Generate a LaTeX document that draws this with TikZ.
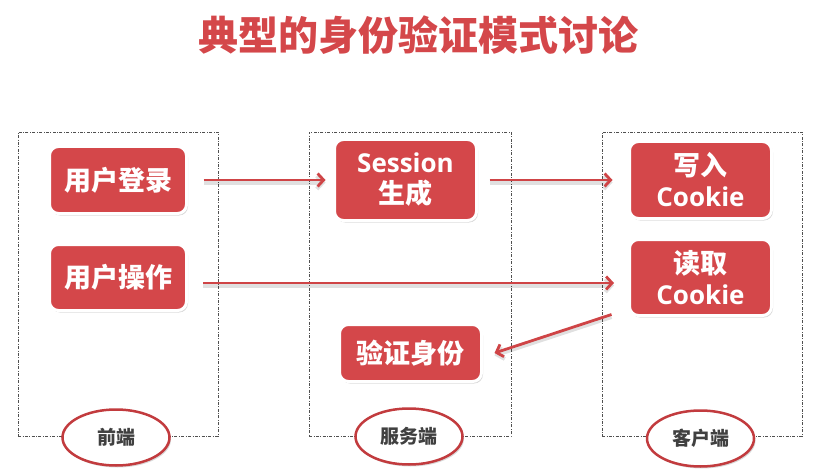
\documentclass[tikz,border=0pt]{standalone}
\usepackage{fontspec}
\setmainfont{Open Sans}
\newfontfamily\cjk{Noto Sans CJK SC}
\usetikzlibrary{shapes.geometric,shadows,arrows.meta}
\definecolor{boxred}{HTML}{D4474A}
\definecolor{titlered}{HTML}{D4474A}
\definecolor{ellred}{HTML}{C23B3E}
\definecolor{arrred}{HTML}{CF4446}
\definecolor{labgray}{HTML}{404040}
\definecolor{framegray}{HTML}{505050}
\begin{document}
\begin{tikzpicture}[x=1pt,y=-1pt,
  redbox/.style={draw=white, line width=3pt, fill=boxred, rounded corners=9pt,
    text=white, font=\bfseries\fontsize{26}{31}\selectfont, align=center, inner sep=0pt,
    drop shadow={opacity=0.3, shadow xshift=1.5pt, shadow yshift=-2pt}},
  framebox/.style={draw=framegray, line width=0.6pt, dash pattern=on 3pt off 1.5pt on 0.8pt off 1.5pt, inner sep=0pt},
  ovalbox/.style={ellipse, draw=ellred, line width=2.5pt, fill=white, inner sep=0pt,
    minimum width=107pt, minimum height=56pt, text=labgray,
    font=\cjk\bfseries\fontsize{19}{22}\selectfont,
    drop shadow={opacity=0.3, shadow xshift=1.5pt, shadow yshift=-2pt}},
  arr/.style={draw=arrred, line width=2.8pt, -{Straight Barb[length=6pt,width=13pt]},
    preaction={draw=black, opacity=0.12, line width=4pt, transform canvas={yshift=-2.5pt}}}
]
\useasboundingbox (0,0) rectangle (826,473);

% title
\node[text=titlered, font=\cjk\bfseries\fontsize{40}{46}\selectfont, inner sep=0pt] (title) at (418.5,35.5) {典型的身份验证模式讨论};

% frames
\node[framebox, minimum width=200pt, minimum height=304pt] (fL) at (118,284) {};
\node[framebox, minimum width=202pt, minimum height=304pt] (fM) at (410,284) {};
\node[framebox, minimum width=200pt, minimum height=304pt] (fR) at (702,284) {};

% boxes
\node[redbox, minimum width=137pt, minimum height=67pt] (login) at (118,180) {\cjk\fontsize{27}{31}\selectfont 用户登录};
\node[redbox, minimum width=137pt, minimum height=66pt] (op) at (118,277.5) {\cjk\fontsize{27}{31}\selectfont 用户操作};
\node[redbox, minimum width=142pt, minimum height=81pt] (sess) at (405.5,180) {Session\\{\cjk\fontsize{27}{31}\selectfont 生成}};
\node[redbox, minimum width=142pt, minimum height=77pt] (write) at (700.5,180) {{\cjk\fontsize{27}{31}\selectfont 写入}\\Cookie};
\node[redbox, minimum width=142pt, minimum height=76pt] (read) at (700.5,277.5) {{\cjk\fontsize{27}{31}\selectfont 读取}\\Cookie};
\node[redbox, minimum width=142pt, minimum height=57pt] (verify) at (410.5,353) {\cjk\fontsize{27}{31}\selectfont 验证身份};

% ellipses
\node[ovalbox] (eL) at (116,437.5) {前端};
\node[ovalbox] (eM) at (409,436.5) {服务端};
\node[ovalbox] (eR) at (700.5,438.5) {客户端};

% arrows
\draw[arr, shorten <=15.5pt, shorten >=7.5pt] (login.east) -- (login.east -| sess.west);
\draw[arr, shorten <=11.5pt, shorten >=15.5pt] (sess.east) -- (sess.east -| write.west);
\draw[arr, shorten <=15pt, shorten >=14pt] ([yshift=-5.5pt]op.east) -- ([yshift=-5.5pt]op.east -| read.west);
\draw[arr] ([shift={(-16.5pt,2.5pt)}]read.south west) -- ([xshift=11.5pt]verify.east);
\end{tikzpicture}
\end{document}
